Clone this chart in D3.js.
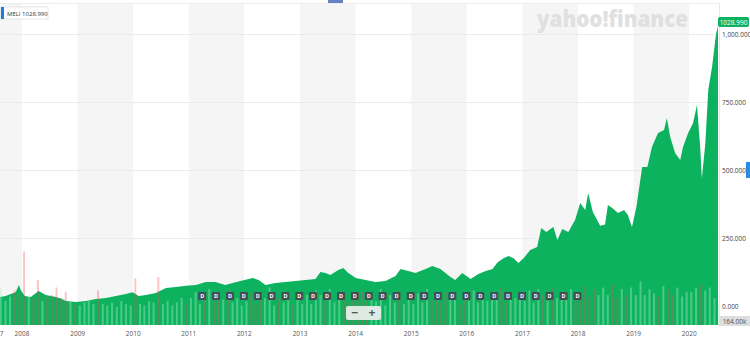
<!DOCTYPE html>
<html>
<head>
<meta charset="utf-8">
<script src="https://cdn.jsdelivr.net/npm/d3@7"></script>
<style>
  html, body { margin: 0; padding: 0; background: #fff; }
  svg { display: block; font-family: "Open Sans", "Noto Sans", sans-serif; }
</style>
</head>
<body>
<svg id="chart" width="750" height="342"></svg>
<script>
// MELI closing price
const priceDates = [
  "2007-08-10","2007-09-16","2007-10-20","2007-11-21","2007-12-12","2007-12-24",
  "2008-01-20","2008-02-28","2008-04-20","2008-06-06","2008-08-11","2008-09-13","2008-10-16","2008-12-20",
  "2009-02-24","2009-05-01","2009-07-05","2009-09-09","2009-11-14","2009-12-28",
  "2010-02-06","2010-03-25","2010-05-30","2010-08-04","2010-10-08","2010-12-13",
  "2011-02-17","2011-04-22","2011-06-25","2011-08-29","2011-10-16","2011-12-06",
  "2012-01-30","2012-02-24","2012-04-04","2012-05-19","2012-07-23","2012-09-27","2012-12-01",
  "2013-02-06","2013-04-12","2013-05-15","2013-06-17","2013-07-19","2013-09-09","2013-10-12","2013-11-14",
  "2014-01-02","2014-03-07","2014-05-11","2014-07-16","2014-09-20","2014-10-23","2014-12-13",
  "2015-01-29","2015-04-05","2015-05-19","2015-07-12","2015-09-16","2015-10-17","2015-12-02",
  "2016-01-26","2016-03-17","2016-05-04","2016-06-18","2016-07-20","2016-08-29","2016-10-01","2016-11-03","2016-12-05",
  "2017-01-08","2017-02-21","2017-04-07","2017-05-04","2017-06-06","2017-07-23","2017-08-18","2017-09-19","2017-10-29","2017-12-12",
  "2018-01-15","2018-02-17","2018-03-08","2018-04-08","2018-05-26","2018-06-27","2018-07-16","2018-08-14","2018-09-20","2018-10-30","2018-11-24","2018-12-21",
  "2019-01-19","2019-02-26","2019-04-01","2019-05-01","2019-06-10","2019-07-20","2019-08-07","2019-08-29","2019-10-01","2019-11-03","2019-11-21","2019-12-25",
  "2020-01-26","2020-02-21","2020-03-13","2020-03-24","2020-04-16","2020-05-05","2020-05-30","2020-06-25","2020-07-08"
];
const priceValues = [
  33, 37, 44, 51, 77, 59,
  37, 33, 55, 40, 33, 28, 18, 15,
  18, 26, 29, 37, 44, 51,
  37, 40, 48, 66, 70, 74,
  77, 88, 88, 77, 85, 92,
  99, 103, 96, 77, 85, 88, 92,
  96, 99, 125, 121, 114, 132, 140, 121,
  103, 96, 88, 92, 110, 136, 129,
  121, 136, 147, 136, 107, 96, 121,
  99, 118, 129, 136, 160, 176, 184, 176, 158,
  176, 206, 217, 287, 272, 290, 243, 283, 272, 316,
  379, 353, 415, 346, 295, 300, 371, 360, 342, 353, 335, 290,
  364, 511, 511, 585, 636, 647, 691, 621, 562, 537, 585, 636,
  673, 739, 585, 470, 599, 794, 879, 1000, 1028.99
];

// monthly volume (thousands of shares), first row starts Aug 2007, last row ends Jul 2020
const volumeYears = [2007, 2008, 2009, 2010, 2011, 2012, 2013, 2014, 2015, 2016, 2017, 2018, 2019, 2020];
const volumeByYear = [
  [1250, 800, 950, 1150, 1050],
  [2450, 1000, 900, 1500, 800, 950, 1000, 1250, 900, 1100, 800, 700],
  [650, 750, 800, 700, 1150, 700, 650, 750, 600, 800, 700, 650],
  [1550, 700, 650, 800, 750, 1600, 700, 800, 650, 750, 900, 700],
  [900, 1100, 700, 950, 1200, 800, 1000, 850, 1150, 750, 900, 650],
  [800, 1050, 700, 1000, 900, 1250, 650, 900, 750, 1100, 700, 850],
  [700, 1000, 700, 1150, 1000, 800, 1200, 750, 900, 1100, 750, 950],
  [800, 1100, 750, 950, 800, 1200, 650, 1000, 750, 1150, 700, 900],
  [700, 1050, 750, 1200, 800, 950, 750, 1100, 850, 1000, 700, 900],
  [800, 1150, 750, 950, 800, 1100, 900, 1250, 750, 1000, 900, 1100],
  [800, 1150, 750, 1200, 1000, 800, 1250, 900, 1050, 1000, 1200, 800],
  [1100, 1300, 950, 1200, 1000, 1250, 1000, 1350, 900, 1200, 1000, 1250],
  [1000, 1450, 1000, 1200, 1050, 950, 1300, 1200, 1000, 1250, 950, 1100],
  [1100, 1250, 1350, 1150, 1250, 900, 700]
];
// 1 = up day colour, 0 = down day colour
const volumeUpByYear = [
  [1,1,1,0,0],
  [0,1,0,0,1,0,0,0,0,0,1,0],
  [1,1,1,1,0,1,1,1,1,1,1,1],
  [0,1,1,1,1,0,1,1,1,1,1,0],
  [1,1,1,0,1,0,0,1,0,1,1,1],
  [1,0,0,0,1,1,1,0,1,1,0,1],
  [1,1,1,1,1,0,1,1,1,0,0,0],
  [0,0,0,1,1,1,1,1,1,0,1,1],
  [1,1,1,1,0,0,0,0,1,1,0,0],
  [1,1,1,1,1,1,1,0,0,1,1,1],
  [1,1,1,1,0,1,0,1,1,1,1,0],
  [0,0,0,0,1,1,1,0,0,1,0,1],
  [1,1,1,1,1,0,1,0,0,1,1,1],
  [1,1,0,1,1,1,1]
];

const dividendDates = [
  "2011-03-30","2011-06-29","2011-09-29","2011-12-29",
  "2012-03-29","2012-06-28","2012-09-27","2012-12-27",
  "2013-03-27","2013-06-27","2013-09-27","2013-12-27",
  "2014-03-28","2014-06-27","2014-09-26","2014-12-29",
  "2015-03-27","2015-06-26","2015-09-28","2015-12-29",
  "2016-03-29","2016-06-29","2016-09-28","2016-12-29",
  "2017-03-29","2017-06-28","2017-09-28","2017-12-28"
];

const yTicks = [0, 250, 500, 750, 1000];
const bandYears = [2007, 2008, 2009, 2010, 2011, 2012, 2013, 2014, 2015, 2016, 2017, 2018, 2019, 2020];
const xTickLabels = ["2007", "2008", "2009", "2010", "2011", "2012", "2013", "2014", "2015", "2016", "2017", "2018", "2019", "2020"];

const symbol = "MELI";
const lastPrice = "1028.990";
const lastVolume = "164.00k";

// --- layout
const PLOT_R = 719, PLOT_T = 3, PLOT_B = 325;
const GREEN = "#0db25f";
const parse = d3.timeParse("%Y-%m-%d");

const series = priceDates.map((d, i) => ({ date: parse(d), v: priceValues[i] }));
const x = d3.scaleTime().domain([series[0].date, series[series.length - 1].date]).range([0, 718]);
const y = d3.scaleLinear().domain([0, 1000]).range([306, 34]);
const vh = d3.scaleLinear().domain([0, 2600]).range([0, 78]);

const svg = d3.select("#chart");

svg.append("defs").append("clipPath").attr("id", "plotclip")
  .append("rect").attr("x", 0).attr("y", PLOT_T).attr("width", PLOT_R).attr("height", PLOT_B - PLOT_T);

// alternating year bands
svg.append("g").selectAll("rect").data(bandYears).join("rect")
  .attr("x", d => Math.max(0, x(new Date(d, 0, 1))))
  .attr("y", PLOT_T)
  .attr("width", d => Math.min(PLOT_R, x(new Date(d + 1, 0, 1))) - Math.max(0, x(new Date(d, 0, 1))))
  .attr("height", PLOT_B - PLOT_T)
  .attr("fill", d => d % 2 ? "#f5f5f5" : "#ffffff");

// horizontal grid
svg.append("g").selectAll("line").data(yTicks).join("line")
  .attr("x1", 0).attr("x2", PLOT_R)
  .attr("y1", d => Math.round(y(d)) + 0.5).attr("y2", d => Math.round(y(d)) + 0.5)
  .attr("stroke", "#ebebeb").attr("stroke-width", 1);

svg.append("line").attr("x1", 0).attr("x2", PLOT_R).attr("y1", PLOT_T + 0.5).attr("y2", PLOT_T + 0.5)
  .attr("stroke", "#ececec");
svg.append("line").attr("x1", PLOT_R + 0.5).attr("x2", PLOT_R + 0.5).attr("y1", PLOT_T).attr("y2", PLOT_B)
  .attr("stroke", "#e6e6e6");

// watermark
svg.append("text").attr("x", 537).attr("y", 27)
  .attr("font-size", 23).attr("font-weight", 800).attr("fill", "#e0e0e0")
  .attr("textLength", 151).attr("lengthAdjust", "spacingAndGlyphs")
  .text("yahoo!finance");

const plot = svg.append("g").attr("clip-path", "url(#plotclip)");

// price area
const area = d3.area().x(d => x(d.date)).y0(PLOT_B).y1(d => y(d.v));
plot.append("path").datum(series).attr("d", area).attr("fill", GREEN);

// volume bars
const vols = [];
volumeByYear.forEach((row, yi) => {
  const startMonth = yi === 0 ? 7 : 0;
  row.forEach((v, mi) => {
    vols.push({ date: new Date(volumeYears[yi], startMonth + mi, 15), v, up: volumeUpByYear[yi][mi] });
  });
});
plot.append("g").selectAll("rect").data(vols).join("rect")
  .attr("x", d => x(d.date) - 1)
  .attr("width", 2)
  .attr("y", d => PLOT_B - vh(d.v))
  .attr("height", d => vh(d.v))
  .attr("fill", d => d.up ? "rgba(175,240,200,0.38)" : "rgba(240,70,80,0.32)");

// dividend markers
const divG = svg.append("g").selectAll("g").data(dividendDates).join("g")
  .attr("transform", d => `translate(${x(parse(d))},296)`);
divG.append("rect").attr("x", -4).attr("y", -4).attr("width", 8).attr("height", 8).attr("rx", 1)
  .attr("fill", "#454d55");
divG.append("text").attr("y", 2).attr("text-anchor", "middle")
  .attr("font-size", 5.5).attr("font-weight", 700).attr("fill", "#fff").text("D");

// zoom control
const zc = svg.append("g").attr("transform", "translate(346,306)");
zc.append("rect").attr("width", 35).attr("height", 14).attr("rx", 2).attr("fill", "rgba(238,240,238,0.92)");
zc.append("text").attr("x", 9).attr("y", 11).attr("text-anchor", "middle").attr("font-size", 12)
  .attr("font-weight", 700).attr("fill", "#555").text("\u2212");
zc.append("text").attr("x", 26).attr("y", 11).attr("text-anchor", "middle").attr("font-size", 12)
  .attr("font-weight", 700).attr("fill", "#555").text("+");

// right axis labels
svg.append("g").selectAll("text").data(yTicks).join("text")
  .attr("x", 722).attr("y", d => y(d) + 2.5)
  .attr("font-size", 6.5).attr("fill", "#444")
  .text(d => d3.format(",.3f")(d));

// x axis labels (first one sits at the start of the data)
svg.append("g").selectAll("text").data(xTickLabels).join("text")
  .attr("x", (d, i) => i === 0 ? -4 : x(new Date(+d, 0, 1)))
  .attr("y", 336).attr("text-anchor", "middle")
  .attr("font-size", 6.5).attr("fill", "#555")
  .text(d => d);

// last price tag
svg.append("rect").attr("x", 718).attr("y", 17).attr("width", 31).attr("height", 10).attr("rx", 2).attr("fill", GREEN);
svg.append("text").attr("x", 733.5).attr("y", 24.5).attr("text-anchor", "middle")
  .attr("font-size", 6.5).attr("fill", "#fff").text(lastPrice);

// last volume tag
svg.append("rect").attr("x", 719).attr("y", 316).attr("width", 31).attr("height", 10).attr("fill", "#dedede");
svg.append("text").attr("x", 734.5).attr("y", 323.5).attr("text-anchor", "middle")
  .attr("font-size", 6.5).attr("fill", "#4a5563").text(lastVolume);

// blue handles
svg.append("rect").attr("x", 746).attr("y", 162).attr("width", 4).attr("height", 16).attr("fill", "#2f8ae5");
svg.append("rect").attr("x", 328).attr("y", 0).attr("width", 15).attr("height", 3).attr("fill", "#6a80c2");

// legend
const lg = svg.append("g").attr("transform", "translate(1,7)");
lg.append("rect").attr("width", 47).attr("height", 12).attr("fill", "#fff").attr("stroke", "#e6e6e6");
lg.append("rect").attr("width", 3).attr("height", 12).attr("fill", "#1e7be0");
lg.append("text").attr("x", 6).attr("y", 8.5).attr("font-size", 6).attr("fill", "#333")
  .text(`${symbol} ${lastPrice}`);
</script>
</body>
</html>
